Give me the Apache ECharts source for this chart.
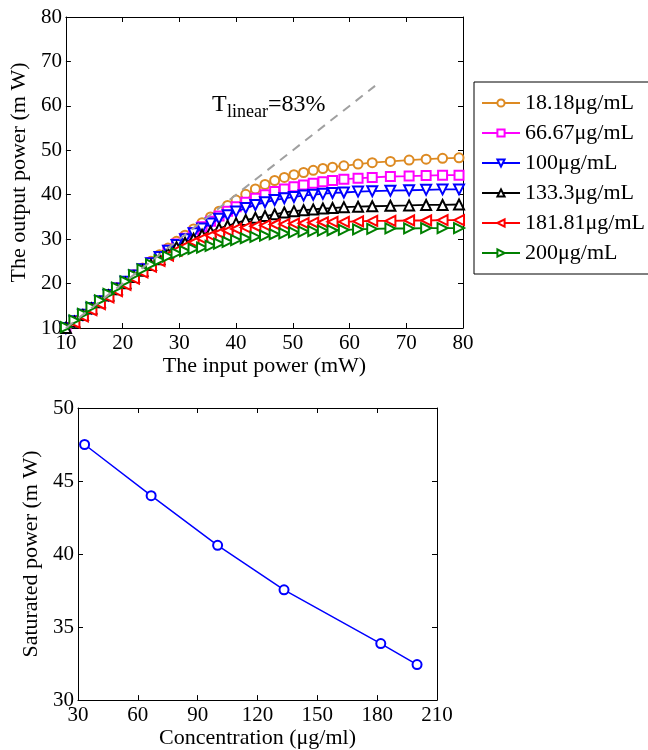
<!DOCTYPE html>
<html><head><meta charset="utf-8">
<script src="https://cdn.jsdelivr.net/npm/echarts@6/dist/echarts.min.js"></script>
<style>html,body{margin:0;padding:0;background:#fff}#c{width:648px;height:750px}</style>
</head><body><div id="c"></div>
<script>
// ---- Data ----
const inputPower = [10, 11.5, 13, 14.5, 16, 17.5, 19, 20.5, 22, 23.5, 25, 26.5, 28, 29.5, 31, 32.5, 34, 35.5, 37, 38.5, 40, 41.7, 43.4, 45.1, 46.8, 48.5, 50.2, 51.9, 53.6, 55.3, 57, 59, 61.5, 64, 67.2, 70.5, 73.5, 76.4, 79.3];
const out18 = [10, 11.5, 13, 14.5, 16, 17.5, 19, 20.5, 22, 23.5, 25, 26.5, 28, 29.5, 30.9, 32.3, 33.7, 35, 36.3, 37.6, 38.8, 40.1, 41.3, 42.3, 43.2, 43.9, 44.5, 45, 45.5, 45.9, 46.2, 46.5, 46.9, 47.2, 47.5, 47.8, 48, 48.2, 48.3];
const out66 = [10, 11.5, 13, 14.5, 16, 17.5, 19, 20.4, 21.9, 23.3, 24.7, 26.1, 27.5, 28.9, 30.2, 31.5, 32.8, 34, 35.2, 36.3, 37.3, 38.3, 39.2, 40, 40.7, 41.3, 41.8, 42.2, 42.6, 42.9, 43.2, 43.5, 43.7, 43.9, 44.1, 44.2, 44.3, 44.4, 44.4];
const out100 = [10, 11.5, 13, 14.5, 16, 17.4, 18.9, 20.4, 21.8, 23.2, 24.6, 26, 27.4, 28.7, 30, 31.3, 32.4, 33.5, 34.6, 35.4, 36.2, 37, 37.7, 38.3, 38.8, 39.2, 39.5, 39.8, 40, 40.2, 40.4, 40.5, 40.7, 40.8, 40.9, 41, 41.1, 41.2, 41.2];
const out133 = [10, 11.4, 12.9, 14.4, 15.8, 17.3, 18.7, 20.1, 21.5, 22.9, 24.2, 25.5, 26.8, 28.2, 29.2, 30.1, 31, 31.7, 32.4, 33, 33.6, 34.3, 34.8, 35.2, 35.6, 36, 36.3, 36.5, 36.7, 36.9, 37, 37.2, 37.3, 37.4, 37.5, 37.6, 37.7, 37.7, 37.8];
const out181 = [9.8, 11.2, 12.6, 14, 15.4, 16.9, 18.3, 19.7, 21.1, 22.5, 23.8, 25.1, 26.3, 27.4, 28.4, 29.3, 30.1, 30.8, 31.4, 31.9, 32.3, 32.6, 32.9, 33.1, 33.3, 33.4, 33.5, 33.6, 33.7, 33.8, 33.9, 33.9, 34, 34.1, 34.1, 34.2, 34.2, 34.3, 34.3];
const out200 = [10.2, 11.7, 13.2, 14.7, 16.2, 17.7, 19.1, 20.5, 21.9, 23.2, 24.3, 25.3, 26.1, 26.8, 27.3, 27.8, 28.1, 28.5, 29, 29.4, 29.8, 30.2, 30.5, 30.8, 31.1, 31.3, 31.5, 31.7, 31.8, 31.9, 32, 32.1, 32.2, 32.3, 32.4, 32.4, 32.5, 32.5, 32.5];
const seriesNames = ['18.18μg/mL', '66.67μg/mL', '100μg/mL', '133.3μg/mL', '181.81μg/mL', '200μg/mL'];
const linearX = [10, 64.5];
const linearY = [10, 64.5];
const concentration = [33.3, 66.67, 100, 133.3, 181.81, 200];
const saturatedPower = [47.5, 44.0, 40.6, 37.55, 33.87, 32.43];
const topTicks = {min: 10, max: 80, interval: 10};
const botXTicks = {min: 30, max: 210, interval: 30};
const botYTicks = {min: 30, max: 50, interval: 5};

// ---- Styles ----
const FONT = 'Liberation Serif';
const colors = ['#dd8a22', '#ff00ff', '#0000ff', '#000000', '#ff0000', '#008000'];
const symbols = ['emptyCircle', 'emptyRect', 'emptyTriangle', 'emptyTriangle', 'emptyTriangle', 'emptyTriangle'];
const rotations = [0, 0, 180, 0, 90, -90];
const sizes = [9, 9, 10, 10, 10, 10];
const outputs = [out18, out66, out100, out133, out181, out200];

function mkAxis(kind, grid, pos, t, labels, name, nameGap) {
  return {
    type: 'value', gridIndex: grid, position: pos,
    min: t.min, max: t.max, interval: t.interval,
    axisLine: {show: true, onZero: false, lineStyle: {color: '#000', width: 1}},
    axisTick: {show: true, inside: true, length: 5, lineStyle: {color: '#000'}},
    splitLine: {show: false},
    axisLabel: {show: labels, color: '#000', fontFamily: FONT, fontSize: 21, margin: kind === 'x' ? 5 : 4, hideOverlap: false},
    name: labels ? name : '', nameLocation: 'middle', nameGap: nameGap,
    nameTextStyle: {color: '#000', fontFamily: FONT, fontSize: 22}
  };
}

const series = outputs.map((arr, i) => ({
  name: seriesNames[i], type: 'line', xAxisIndex: 0, yAxisIndex: 0,
  data: inputPower.map((x, j) => [x, arr[j]]),
  symbol: symbols[i], symbolSize: sizes[i], symbolRotate: rotations[i],
  itemStyle: {color: colors[i], borderWidth: 1.5},
  lineStyle: {color: colors[i], width: 1.8},
  z: 3 + i, animation: false
}));
series.push({
  name: 'linear', type: 'line', xAxisIndex: 0, yAxisIndex: 0,
  data: linearX.map((x, j) => [x, linearY[j]]),
  symbol: 'none', lineStyle: {color: '#a0a0a0', width: 2, type: [9, 7]}, z: 10, animation: false
});
series.push({
  name: 'saturated', type: 'line', xAxisIndex: 2, yAxisIndex: 2,
  data: concentration.map((x, j) => [x, saturatedPower[j]]),
  symbol: 'emptyCircle', symbolSize: 9,
  itemStyle: {color: '#0000ff', borderWidth: 1.5},
  lineStyle: {color: '#0000ff', width: 1.5}, animation: false
});

const chart = echarts.init(document.getElementById('c'), null, {renderer: 'canvas'});
chart.setOption({
  backgroundColor: '#fff',
  animation: false,
  grid: [
    {left: 63, top: 17, width: 400, height: 311},
    {left: 78, top: 408, width: 359, height: 294}
  ],
  xAxis: [
    mkAxis('x', 0, 'bottom', topTicks, true, 'The input power (mW)', 25),
    mkAxis('x', 0, 'top', topTicks, false, '', 0),
    mkAxis('x', 1, 'bottom', botXTicks, true, 'Concentration (μg/ml)', 24),
    mkAxis('x', 1, 'top', botXTicks, false, '', 0)
  ],
  yAxis: [
    mkAxis('y', 0, 'left', topTicks, true, 'The output power (m W)', 26),
    mkAxis('y', 0, 'right', topTicks, false, '', 0),
    mkAxis('y', 1, 'left', botYTicks, true, 'Saturated power (m W)', 29),
    mkAxis('y', 1, 'right', botYTicks, false, '', 0)
  ],
  legend: {
    data: seriesNames, orient: 'vertical', left: 474, top: 82,
    width: 173, itemWidth: 38, itemHeight: 9, itemGap: 6,
    borderColor: '#000', borderWidth: 1, padding: [9, 5, 9, 7],
    backgroundColor: '#fff',
    textStyle: {color: '#000', fontFamily: FONT, fontSize: 22, lineHeight: 24},
    selectedMode: false
  },
  graphic: [
    {type: 'text', left: 212, top: 93, style: {text: 'T', font: '24px "Liberation Serif"', fill: '#000'}},
    {type: 'text', left: 227, top: 103, style: {text: 'linear', font: '18px "Liberation Serif"', fill: '#000'}},
    {type: 'text', left: 268, top: 93, style: {text: '=83%', font: '24px "Liberation Serif"', fill: '#000'}}
  ],
  series: series
});
</script></body></html>
